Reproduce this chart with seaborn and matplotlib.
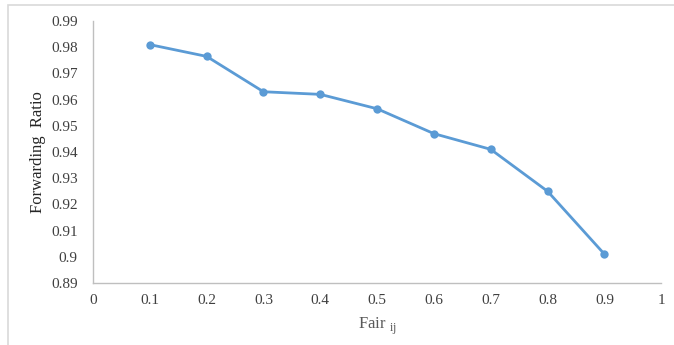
import numpy as np
import pandas as pd
import matplotlib
matplotlib.use('Agg')
import matplotlib.pyplot as plt
import seaborn as sns
from matplotlib.patches import Rectangle

# data
fair = [0.1, 0.2, 0.3, 0.4, 0.5, 0.6, 0.7, 0.8, 0.9]
ratio = [0.981, 0.9765, 0.963, 0.962, 0.9565, 0.947, 0.941, 0.925, 0.901]
x_ticks = [0, 0.1, 0.2, 0.3, 0.4, 0.5, 0.6, 0.7, 0.8, 0.9, 1]
x_labels = ['0', '0.1', '0.2', '0.3', '0.4', '0.5', '0.6', '0.7', '0.8', '0.9', '1']
y_ticks = [0.89, 0.90, 0.91, 0.92, 0.93, 0.94, 0.95, 0.96, 0.97, 0.98, 0.99]
y_labels = ['0.89', '0.9', '0.91', '0.92', '0.93', '0.94', '0.95', '0.96', '0.97', '0.98', '0.99']

df = pd.DataFrame({'Fair': fair, 'Ratio': ratio})

sns.set_style('white')
plt.rcParams['font.family'] = ['Liberation Serif', 'DejaVu Serif']

fig = plt.figure(figsize=(6.74, 3.45), dpi=100)
ax = fig.add_axes([0.138, 0.180, 0.843, 0.759])

# light border round the chart area
fig.patches.append(Rectangle((8 / 674, -0.1), 1.2, 1 - 5 / 345 + 0.1,
                             transform=fig.transFigure, fill=False,
                             edgecolor='#d9d9d9', linewidth=1.2))

sns.lineplot(data=df, x='Fair', y='Ratio', ax=ax, color='#5b9bd5',
             linewidth=2, marker='o', markersize=6, markeredgewidth=0)

ax.set_xlim(0, 1)
ax.set_ylim(0.89, 0.99)
ax.set_xticks(x_ticks)
ax.set_xticklabels(x_labels)
ax.set_yticks(y_ticks)
ax.set_yticklabels(y_labels)
ax.tick_params(axis='both', length=0, labelsize=11, colors='#404040', pad=8)
ax.tick_params(axis='y', pad=11)

for s in ['top', 'right']:
    ax.spines[s].set_visible(False)
for s in ['left', 'bottom']:
    ax.spines[s].set_color('#bfbfbf')
    ax.spines[s].set_linewidth(1)

ax.set_xlabel(r'Fair $_{\mathregular{ij}}$', fontsize=12, color='#595959', labelpad=6)
ax.set_ylabel('Forwarding  Ratio', fontsize=12, color='#262626', labelpad=4)

fig.savefig('out.png', dpi=100)
